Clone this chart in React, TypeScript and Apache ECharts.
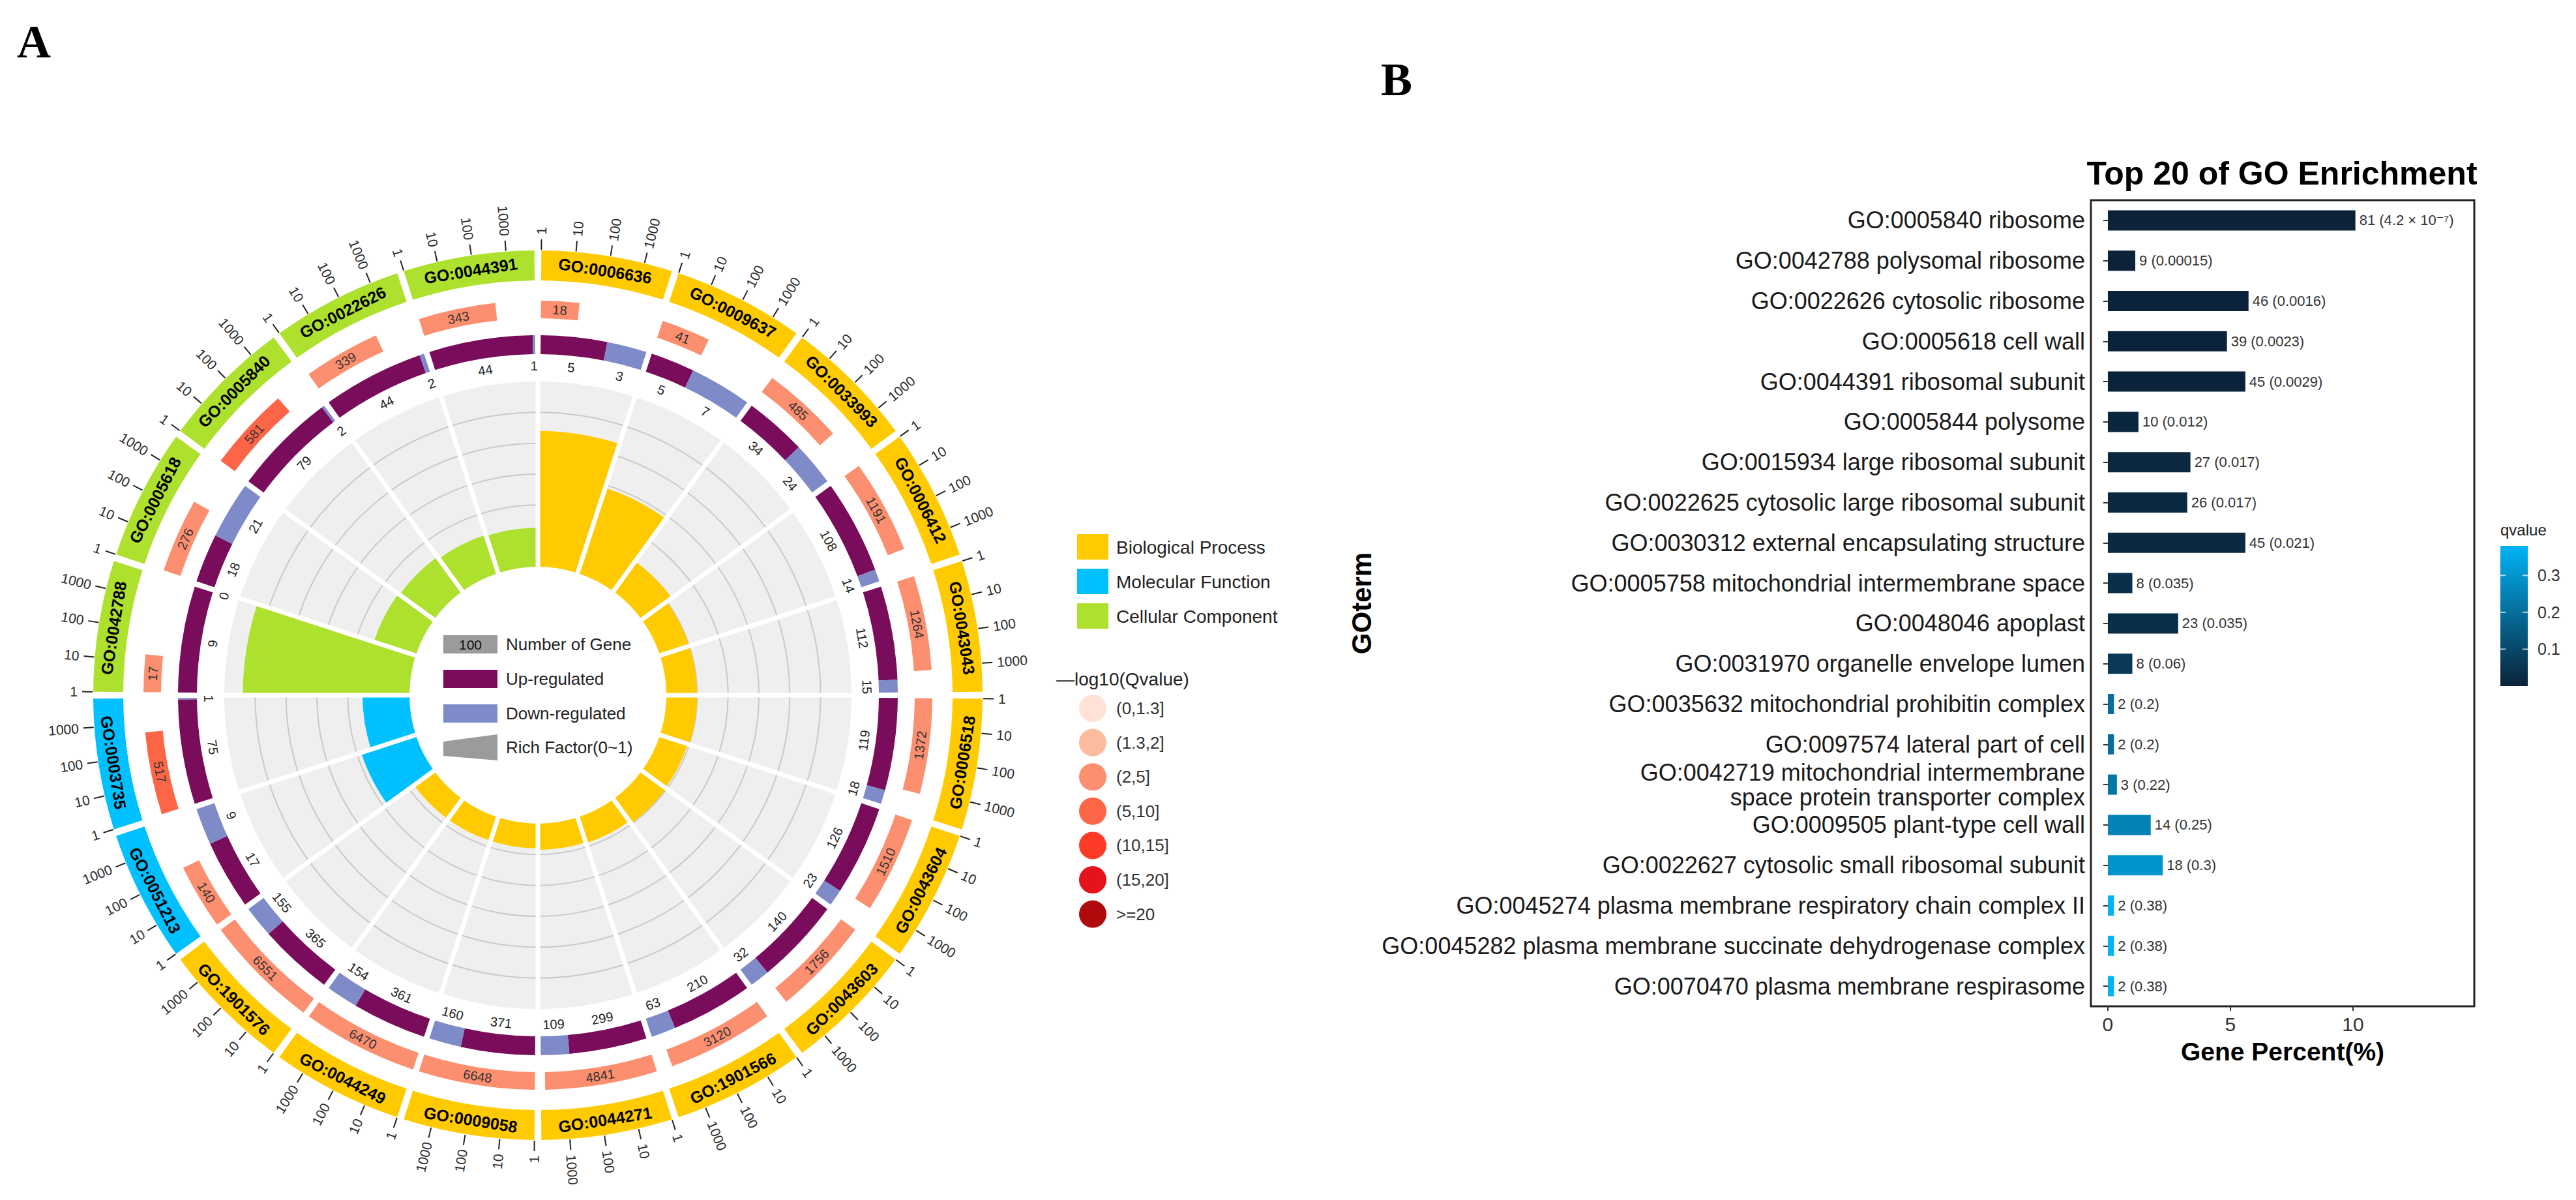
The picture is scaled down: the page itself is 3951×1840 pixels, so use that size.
import React, { useEffect, useRef } from 'react';
import * as echarts from 'echarts';

const W = 3951;
const H = 1840;
const FONT = '"Liberation Sans", Arial, "DejaVu Sans", sans-serif';

// ---------------- Panel A data (clockwise from 12 o'clock) ----------------
const goIds = [
  'GO:0006636', 'GO:0009637', 'GO:0033993', 'GO:0006412', 'GO:0043043', 'GO:0006518', 'GO:0043604',
  'GO:0043603', 'GO:1901566', 'GO:0044271', 'GO:0009058', 'GO:0044249', 'GO:1901576',
  'GO:0051213', 'GO:0003735',
  'GO:0042788', 'GO:0005618', 'GO:0005840', 'GO:0022626', 'GO:0044391',
];
// 0 = BP, 1 = MF, 2 = CC
const goClass = [0, 0, 0, 0, 0, 0, 0, 0, 0, 0, 0, 0, 0, 1, 1, 2, 2, 2, 2, 2];
const classNames = ['Biological Process', 'Molecular Function', 'Cellular Component'];
const classColors = ['#FFCB00', '#00C0FF', '#AEE02E'];
const bgCount = [18, 41, 485, 1191, 1264, 1372, 1510, 1756, 3120, 4841, 6648, 6470, 6551, 140, 517, 17, 276, 581, 339, 343];
// index into qBinLabels
const qBin = [2, 2, 2, 2, 2, 2, 2, 2, 2, 2, 2, 2, 2, 2, 3, 2, 2, 3, 2, 2];
const qBinLabels = ['(0,1.3]', '(1.3,2]', '(2,5]', '(5,10]', '(10,15]', '(15,20]', '>=20'];
const qBinColors = ['#FEE2D6', '#FDBBA0', '#FC8F6F', '#FC6646', '#FE3B26', '#E5131B', '#AF0B0D'];
const upCount = [5, 5, 34, 108, 112, 119, 126, 140, 210, 299, 371, 361, 365, 17, 75, 9, 18, 79, 44, 44];
const downCount = [3, 7, 24, 14, 15, 18, 23, 32, 63, 109, 160, 154, 155, 9, 1, 0, 21, 2, 2, 1];
const richFactor = [0.44, 0.29, 0.12, 0.10, 0.10, 0.10, 0.095, 0.098, 0.088, 0.085, 0.08, 0.08, 0.08, 0.186, 0.152, 0.54, 0.143, 0.138, 0.13, 0.126];
const tickValues = [1, 10, 100, 1000];
const centerLegend = ['Number of Gene', 'Up-regulated', 'Down-regulated', 'Rich Factor(0~1)'];

// ---------------- Panel B data ----------------
const bTerms = [
  'GO:0005840 ribosome',
  'GO:0042788 polysomal ribosome',
  'GO:0022626 cytosolic ribosome',
  'GO:0005618 cell wall',
  'GO:0044391 ribosomal subunit',
  'GO:0005844 polysome',
  'GO:0015934 large ribosomal subunit',
  'GO:0022625 cytosolic large ribosomal subunit',
  'GO:0030312 external encapsulating structure',
  'GO:0005758 mitochondrial intermembrane space',
  'GO:0048046 apoplast',
  'GO:0031970 organelle envelope lumen',
  'GO:0035632 mitochondrial prohibitin complex',
  'GO:0097574 lateral part of cell',
  'GO:0042719 mitochondrial intermembrane\nspace protein transporter complex',
  'GO:0009505 plant-type cell wall',
  'GO:0022627 cytosolic small ribosomal subunit',
  'GO:0045274 plasma membrane respiratory chain complex II',
  'GO:0045282 plasma membrane succinate dehydrogenase complex',
  'GO:0070470 plasma membrane respirasome',
];
const bPercent = [10.1, 1.12, 5.74, 4.86, 5.61, 1.25, 3.37, 3.24, 5.61, 1.0, 2.87, 1.0, 0.25, 0.25, 0.37, 1.75, 2.24, 0.25, 0.25, 0.25];
const bCount = [81, 9, 46, 39, 45, 10, 27, 26, 45, 8, 23, 8, 2, 2, 3, 14, 18, 2, 2, 2];
const bQ = [4.2e-7, 0.00015, 0.0016, 0.0023, 0.0029, 0.012, 0.017, 0.017, 0.021, 0.035, 0.035, 0.06, 0.2, 0.2, 0.22, 0.25, 0.3, 0.38, 0.38, 0.38];
const bQText = ['4.2 × 10⁻⁷', '0.00015', '0.0016', '0.0023', '0.0029', '0.012', '0.017', '0.017', '0.021', '0.035', '0.035', '0.06', '0.2', '0.2', '0.22', '0.25', '0.3', '0.38', '0.38', '0.38'];
const xTicks = [0, 5, 10];
const qLegendTicks = [0.1, 0.2, 0.3];

// ---------------- layout constants ----------------
const CX = 825;
const CY = 1066;
const N = goIds.length;
const PAD = 0.025; // sector units
const R_AXIS = 760;
const RING_GO = [636, 682];
const RING_Q = [578, 605];
const RING_UD = [523, 552];
const UD_LABEL_R = 505;
const TICK_R = [683, 699];
const TICK_LABEL_R = 706;
const INNER = [197, 481];
const RICH_MAX = 0.6;
const RICH_GRID = [0.1, 0.2, 0.3, 0.4, 0.5];
const UP_COLOR = '#7A0C5C';
const DOWN_COLOR = '#7F8BC9';
const Q_LOW = '#0B2239';
const Q_HIGH = '#00B3F5';
const Q_MIN = 0;
const Q_MAX = 0.38;

const LMAX = Math.log10(Math.max(...bgCount));
const logPos = (i: number, n: number) => i + PAD + (Math.log10(n) / LMAX) * (1 - 2 * PAD);

function helpers(params: any, api: any, rTop: number) {
  const cx = params.coordSys.cx;
  const cy = params.coordSys.cy;
  const pt = (r: number, a: number) => api.coord([r, a]) as number[];
  const ang = (a: number) => {
    const p = pt(rTop, a);
    return Math.atan2(p[1] - cy, p[0] - cx);
  };
  const rad = (r: number) => {
    const p = pt(r, 0);
    return Math.hypot(p[0] - cx, p[1] - cy);
  };
  const span = (a0: number, a1: number) => {
    const s = ang(a0);
    let e = ang(a1);
    if (e < s) e += Math.PI * 2;
    return [s, e];
  };
  const sector = (r0: number, r1: number, a0: number, a1: number, fill: string) => {
    const [s, e] = span(a0, a1);
    return {
      type: 'sector',
      shape: { cx, cy, r0: rad(r0), r: rad(r1), startAngle: s, endAngle: e, clockwise: true },
      style: { fill },
    };
  };
  const arc = (r: number, a0: number, a1: number, stroke: string, lw: number) => {
    const [s, e] = span(a0, a1);
    return {
      type: 'arc',
      shape: { cx, cy, r: rad(r), startAngle: s, endAngle: e, clockwise: true },
      style: { stroke, lineWidth: lw, fill: null },
    };
  };
  const theta = (a: number) => {
    const d = (ang(a) * 180) / Math.PI + 90;
    return ((d % 360) + 360) % 360;
  };
  const tangentText = (r: number, a: number, text: string, style: any) => {
    const p = pt(r, a);
    const t = theta(a);
    const rot = t < 90 || t > 270 ? -t : 180 - t;
    return {
      type: 'text',
      x: p[0],
      y: p[1],
      rotation: (rot * Math.PI) / 180,
      style: { text, align: 'center', verticalAlign: 'middle', fontFamily: FONT, ...style },
    };
  };
  const radialText = (r: number, a: number, text: string, style: any) => {
    const p = pt(r, a);
    const t = theta(a);
    const right = t < 180;
    const rot = right ? 90 - t : 270 - t;
    return {
      type: 'text',
      x: p[0],
      y: p[1],
      rotation: (rot * Math.PI) / 180,
      style: { text, align: right ? 'left' : 'right', verticalAlign: 'middle', fontFamily: FONT, ...style },
    };
  };
  const line = (r0: number, r1: number, a: number, stroke: string, lw: number, ext0 = 0, ext1 = 0) => {
    const p0 = pt(r0, a);
    const p1 = pt(r1, a);
    const dx = p1[0] - p0[0];
    const dy = p1[1] - p0[1];
    const len = Math.hypot(dx, dy) || 1;
    const ux = dx / len;
    const uy = dy / len;
    return {
      type: 'line',
      shape: { x1: p0[0] - ux * ext0, y1: p0[1] - uy * ext0, x2: p1[0] + ux * ext1, y2: p1[1] + uy * ext1 },
      style: { stroke, lineWidth: lw },
    };
  };
  return { sector, arc, tangentText, radialText, line };
}

function buildOption() {
  const sectorData = goIds.map((_, i) => [i, bgCount[i], qBin[i], upCount[i], downCount[i], goClass[i]]);
  const innerData = goIds.map((_, i) => [i, richFactor[i], goClass[i]]);

  const outerSeries = {
    type: 'custom',
    coordinateSystem: 'polar',
    polarIndex: 0,
    data: sectorData,
    silent: true,
    renderItem: (params: any, api: any) => {
      const h = helpers(params, api, R_AXIS);
      const i = api.value(0);
      const bg = api.value(1);
      const qb = api.value(2);
      const up = api.value(3);
      const dn = api.value(4);
      const cls = api.value(5);
      const a0 = i + PAD;
      const a1 = i + 1 - PAD;
      const children: any[] = [];
      // GO label band
      children.push(h.sector(RING_GO[0], RING_GO[1], a0, a1, classColors[cls]));
      children.push(
        h.tangentText((RING_GO[0] + RING_GO[1]) / 2, i + 0.5, goIds[i], { fontSize: 25, fontWeight: 'bold', fill: '#000' })
      );
      // log ticks
      tickValues.forEach((v) => {
        const a = logPos(i, v);
        children.push(h.line(TICK_R[0], TICK_R[1], a, '#222', 2));
        children.push(h.radialText(TICK_LABEL_R, a, String(v), { fontSize: 21, fill: '#2b2b2b' }));
      });
      // number of genes ring (log length, q colour)
      const qEnd = logPos(i, bg);
      children.push(h.sector(RING_Q[0], RING_Q[1], a0, qEnd, qBinColors[qb]));
      children.push(h.tangentText((RING_Q[0] + RING_Q[1]) / 2, (a0 + qEnd) / 2, String(bg), { fontSize: 20, fill: '#333' }));
      // up / down ring
      const split = a0 + ((1 - 2 * PAD) * up) / (up + dn);
      if (up > 0) children.push(h.sector(RING_UD[0], RING_UD[1], a0, split, UP_COLOR));
      if (dn > 0) children.push(h.sector(RING_UD[0], RING_UD[1], split, a1, DOWN_COLOR));
      children.push(h.tangentText(UD_LABEL_R, (a0 + split) / 2, String(up), { fontSize: 20, fill: '#222' }));
      children.push(h.tangentText(UD_LABEL_R, (split + a1) / 2, String(dn), { fontSize: 20, fill: '#222' }));
      return { type: 'group', children };
    },
  };

  const innerSeries = {
    type: 'custom',
    coordinateSystem: 'polar',
    polarIndex: 1,
    data: innerData,
    silent: true,
    renderItem: (params: any, api: any) => {
      const h = helpers(params, api, RICH_MAX);
      const i = api.value(0);
      const rf = api.value(1);
      const cls = api.value(2);
      const children: any[] = [];
      children.push(h.sector(0, RICH_MAX, i, i + 1, '#EFEFEF'));
      RICH_GRID.forEach((g) => children.push(h.arc(g, i, i + 1, '#C9C9C9', 2)));
      children.push(h.sector(0, rf, i, i + 1, classColors[cls]));
      return { type: 'group', children };
    },
  };

  const separatorSeries = {
    type: 'custom',
    coordinateSystem: 'polar',
    polarIndex: 1,
    data: goIds.map((_, i) => [i]),
    silent: true,
    renderItem: (params: any, api: any) => {
      const h = helpers(params, api, RICH_MAX);
      const i = api.value(0);
      return h.line(0, RICH_MAX, i, '#FFFFFF', 7, 6, 6);
    },
  };

  const barSeries = {
    type: 'bar',
    xAxisIndex: 0,
    yAxisIndex: 0,
    data: bPercent.map((v, i) => [v, i, bQ[i]]),
    encode: { x: 0, y: 1 },
    barWidth: 31,
    label: {
      show: true,
      position: 'right',
      distance: 6,
      fontSize: 22,
      color: '#333',
      fontFamily: FONT,
      formatter: (p: any) => `${bCount[p.dataIndex]} (${bQText[p.dataIndex]})`,
    },
  };

  // ---------------- graphics (legends, titles) ----------------
  const graphic: any[] = [];
  graphic.push({ type: 'text', x: 26, y: 28, style: { text: 'A', fontFamily: '"Liberation Serif", serif', fontWeight: 'bold', fontSize: 72, fill: '#000' } });
  graphic.push({ type: 'text', x: 2118, y: 86, style: { text: 'B', fontFamily: '"Liberation Serif", serif', fontWeight: 'bold', fontSize: 72, fill: '#000' } });

  // centre legend
  const clY = [988, 1041, 1094, 1146];
  graphic.push({ type: 'rect', shape: { x: 680, y: clY[0] - 14, width: 83, height: 28 }, style: { fill: '#9B9B9B' } });
  graphic.push({ type: 'text', x: 721.5, y: clY[0], style: { text: '100', align: 'center', verticalAlign: 'middle', fontSize: 21, fontFamily: FONT, fill: '#111' } });
  graphic.push({ type: 'rect', shape: { x: 680, y: clY[1] - 14, width: 83, height: 28 }, style: { fill: UP_COLOR } });
  graphic.push({ type: 'rect', shape: { x: 680, y: clY[2] - 14, width: 83, height: 28 }, style: { fill: DOWN_COLOR } });
  graphic.push({
    type: 'polygon',
    shape: { points: [[680, clY[3] - 9], [763, clY[3] - 20], [763, clY[3] + 20], [680, clY[3] + 13]] },
    style: { fill: '#9B9B9B' },
  });
  centerLegend.forEach((t, k) => {
    graphic.push({ type: 'text', x: 776, y: clY[k], style: { text: t, verticalAlign: 'middle', fontSize: 26, fontFamily: FONT, fill: '#222' } });
  });

  // category legend
  classNames.forEach((t, k) => {
    const y = 819 + k * 53;
    graphic.push({ type: 'rect', shape: { x: 1652, y, width: 48, height: 39 }, style: { fill: classColors[k] } });
    graphic.push({ type: 'text', x: 1712, y: y + 20, style: { text: t, verticalAlign: 'middle', fontSize: 28, fontFamily: FONT, fill: '#222' } });
  });
  graphic.push({ type: 'text', x: 1620, y: 1041, style: { text: '—log10(Qvalue)', verticalAlign: 'middle', fontSize: 28, fontFamily: FONT, fill: '#222' } });
  qBinLabels.forEach((t, k) => {
    const y = 1086 + k * 52.6;
    graphic.push({ type: 'circle', shape: { cx: 1676, cy: y, r: 21 }, style: { fill: qBinColors[k] } });
    graphic.push({ type: 'text', x: 1712, y, style: { text: t, verticalAlign: 'middle', fontSize: 26, fontFamily: FONT, fill: '#333' } });
  });

  // panel B title
  graphic.push({ type: 'text', x: 3500, y: 266, style: { text: 'Top 20 of GO Enrichment', align: 'center', verticalAlign: 'middle', fontSize: 50, fontWeight: 'bold', fontFamily: FONT, fill: '#000' } });

  // qvalue colour bar legend
  const CB = { x: 3835, y: 837, w: 42, h: 215 };
  graphic.push({ type: 'text', x: 3835, y: 812, style: { text: 'qvalue', verticalAlign: 'middle', fontSize: 24, fontFamily: FONT, fill: '#222' } });
  graphic.push({
    type: 'rect',
    shape: { x: CB.x, y: CB.y, width: CB.w, height: CB.h },
    style: {
      fill: new echarts.graphic.LinearGradient(0, 0, 0, 1, [
        { offset: 0, color: Q_HIGH },
        { offset: 1, color: Q_LOW },
      ]),
    },
  });
  qLegendTicks.forEach((v) => {
    const y = CB.y + CB.h - ((v - Q_MIN) / (Q_MAX - Q_MIN)) * CB.h;
    graphic.push({ type: 'line', shape: { x1: CB.x, y1: y, x2: CB.x + 8, y2: y }, style: { stroke: 'rgba(255,255,255,0.7)', lineWidth: 2 } });
    graphic.push({ type: 'line', shape: { x1: CB.x + CB.w - 8, y1: y, x2: CB.x + CB.w, y2: y }, style: { stroke: 'rgba(255,255,255,0.7)', lineWidth: 2 } });
    graphic.push({ type: 'text', x: 3892, y, style: { text: String(v), verticalAlign: 'middle', fontSize: 25, fontFamily: FONT, fill: '#333' } });
  });

  return {
    animation: false,
    backgroundColor: '#ffffff',
    textStyle: { fontFamily: FONT },
    polar: [
      { center: [CX, CY], radius: [0, R_AXIS] },
      { center: [CX, CY], radius: INNER },
    ],
    angleAxis: [
      { polarIndex: 0, type: 'value', min: 0, max: N, startAngle: 90, clockwise: true, show: false },
      { polarIndex: 1, type: 'value', min: 0, max: N, startAngle: 90, clockwise: true, show: false },
    ],
    radiusAxis: [
      { polarIndex: 0, type: 'value', min: 0, max: R_AXIS, show: false },
      { polarIndex: 1, type: 'value', min: 0, max: RICH_MAX, show: false },
    ],
    grid: {
      left: 3207,
      top: 307,
      width: 588,
      height: 1236,
      show: true,
      borderColor: '#222',
      borderWidth: 3,
      backgroundColor: 'rgba(0,0,0,0)',
      containLabel: false,
    },
    xAxis: {
      type: 'value',
      min: -0.69,
      max: 14.95,
      axisLine: { show: false },
      splitLine: { show: false },
      axisTick: { show: true, length: 7, customValues: xTicks, lineStyle: { color: '#333', width: 2 } },
      axisLabel: { customValues: xTicks, fontSize: 30, color: '#333', margin: 12, fontFamily: FONT },
      name: 'Gene Percent(%)',
      nameLocation: 'middle',
      nameGap: 50,
      nameTextStyle: { fontSize: 39, fontWeight: 'bold', color: '#000', fontFamily: FONT },
    },
    yAxis: {
      type: 'category',
      data: bTerms,
      inverse: true,
      axisLine: { show: false },
      splitLine: { show: false },
      axisTick: { show: true, alignWithLabel: true, interval: 0, length: 7, lineStyle: { color: '#333', width: 2 } },
      axisLabel: { interval: 0, fontSize: 36, color: '#1a1a1a', margin: 9, lineHeight: 38, fontFamily: FONT },
      name: 'GOterm',
      nameLocation: 'middle',
      nameRotate: 90,
      nameGap: 1098,
      nameTextStyle: { fontSize: 42, fontWeight: 'bold', color: '#000', fontFamily: FONT },
    },
    visualMap: {
      type: 'continuous',
      show: false,
      seriesIndex: 0,
      dimension: 2,
      min: Q_MIN,
      max: Q_MAX,
      inRange: { color: [Q_LOW, Q_HIGH] },
    },
    series: [barSeries, innerSeries, separatorSeries, outerSeries],
    graphic,
  };
}

export default function App() {
  const ref = useRef<HTMLDivElement>(null);
  useEffect(() => {
    if (!ref.current) return;
    const chart = echarts.init(ref.current, null, { renderer: 'svg' });
    chart.setOption(buildOption() as any);
    return () => chart.dispose();
  }, []);
  return (
    <div
      ref={ref}
      style={{ position: 'absolute', left: 0, top: 0, width: W, height: H, background: '#fff' }}
    />
  );
}
